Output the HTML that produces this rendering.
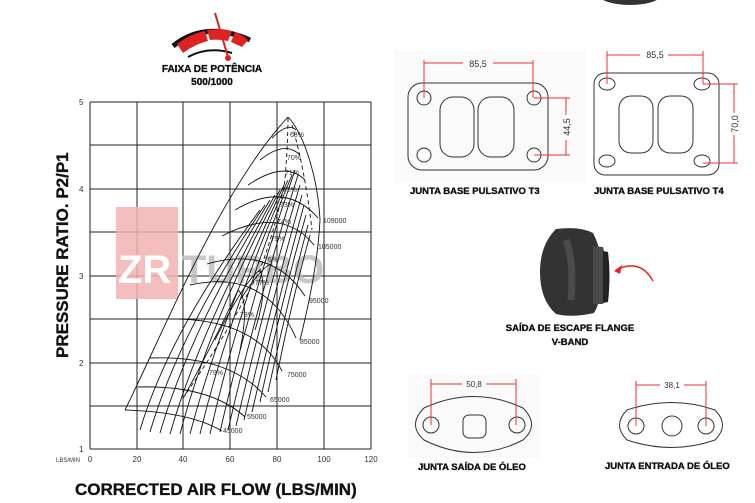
<!DOCTYPE html>
<html><head><meta charset="utf-8"><style>
html,body{margin:0;padding:0;background:#fff;width:755px;height:503px;overflow:hidden}
svg{display:block}
.b{font-family:"Liberation Sans",sans-serif;font-weight:bold;fill:#111;stroke:#111;stroke-width:0.35}
.s{font-family:"Liberation Sans",sans-serif;fill:#333}
</style></head><body>
<svg width="755" height="503" viewBox="0 0 755 503" xmlns="http://www.w3.org/2000/svg">
<g>
<path d="M173,46 Q205,20 250,40" stroke="#111" stroke-width="5" fill="none"/>
<path d="M183,53 L177,44 Q190,34 205,31 L208,41 Q195,44 183,53Z" fill="#d22"/>
<path d="M210,40 L207,30 Q220,28 232,31 L228,41 Q219,39 210,40Z" fill="#d22"/>
<path d="M231,42 L235,32 Q243,35 248,40 L242,47Z" fill="#d22"/>
<path d="M188,57 Q208,46 232,53" stroke="#111" stroke-width="2" fill="none"/>
<line x1="215" y1="13" x2="228" y2="57" stroke="#d22" stroke-width="2"/>
<circle cx="228" cy="58" r="3" fill="#d22"/>
</g>
<text x="212" y="72" class="b" font-size="10" text-anchor="middle">FAIXA DE POTÊNCIA</text>
<text x="212" y="85" class="b" font-size="10" text-anchor="middle">500/1000</text>

<g stroke="#222" stroke-width="1">
<line x1="90" y1="102" x2="90" y2="449"/><line x1="137" y1="102" x2="137" y2="449"/><line x1="183" y1="102" x2="183" y2="449"/><line x1="230" y1="102" x2="230" y2="449"/><line x1="277" y1="102" x2="277" y2="449"/><line x1="324" y1="102" x2="324" y2="449"/><line x1="371" y1="102" x2="371" y2="449"/>
<line x1="90" y1="102" x2="371" y2="102"/><line x1="90" y1="145" x2="371" y2="145"/><line x1="90" y1="189" x2="371" y2="189"/><line x1="90" y1="232" x2="371" y2="232"/><line x1="90" y1="276" x2="371" y2="276"/><line x1="90" y1="319" x2="371" y2="319"/><line x1="90" y1="363" x2="371" y2="363"/><line x1="90" y1="406" x2="371" y2="406"/><line x1="90" y1="449" x2="371" y2="449"/>
</g>
<g class="s" font-size="8">
<text x="79" y="105">5</text><text x="79" y="192">4</text><text x="79" y="279">3</text><text x="79" y="366">2</text><text x="79" y="452">1</text>
<text x="56" y="462" font-size="6">LBS/MIN</text>
<text x="90" y="462" text-anchor="middle">0</text><text x="137" y="462" text-anchor="middle">20</text><text x="183" y="462" text-anchor="middle">40</text><text x="230" y="462" text-anchor="middle">60</text><text x="277" y="462" text-anchor="middle">80</text><text x="324" y="462" text-anchor="middle">100</text><text x="371" y="462" text-anchor="middle">120</text>
</g>
<text class="b" font-size="17" transform="translate(68,358) rotate(-90)">PRESSURE RATIO. P2/P1</text>
<text x="75" y="495" class="b" font-size="17">CORRECTED AIR FLOW (LBS/MIN)</text>

<rect x="116" y="207" width="62" height="92" fill="#f2b3b3" opacity="0.85"/>
<text x="118" y="283" font-family="Liberation Sans,sans-serif" font-weight="bold" font-size="40" fill="#fff">ZR</text>
<text x="182" y="283" font-family="Liberation Sans,sans-serif" font-weight="bold" font-size="40" fill="#bbb" opacity="0.8">TURBO</text>

<g stroke="#111" stroke-width="0.9" fill="none">
<path d="M125,410 C160,340 220,190 288,117"/>
<path d="M288,117 C305,135 318,180 320,220 C318,260 310,300 300,340"/>
<path d="M125,410 Q190,412 222,431"/>
<path d="M138,387 Q210,385 245,417"/>
<path d="M150,358 Q230,355 266,397"/>
<path d="M168,319 Q255,318 282,371"/>
<path d="M190,285 Q265,268 296,338"/>
<path d="M207,264 Q272,245 305,296"/>
<path d="M222,236 Q282,205 314,245"/>
<path d="M235,210 Q285,180 318,218"/>
<path d="M248,185 Q285,160 305,180"/>
<path d="M260,160 Q285,140 300,155"/>
<path d="M272,138 Q288,122 296,130"/>
<path d="M140,430 Q170,330 260,210"/><path d="M150,432 Q180,330 265,205"/><path d="M160,433 Q190,330 270,200"/><path d="M170,434 Q200,330 275,195"/>
<path d="M180,434 Q210,320 280,190"/><path d="M190,434 Q220,320 284,185"/><path d="M200,434 Q230,310 288,180"/><path d="M210,434 Q240,300 292,175"/>
<path d="M220,432 Q250,300 295,170"/><path d="M228,430 Q258,300 298,175"/><path d="M236,426 Q265,300 300,185"/><path d="M244,420 Q272,300 302,195"/>
<path d="M252,412 Q278,300 304,205"/><path d="M260,402 Q282,300 306,215"/><path d="M268,392 Q288,300 308,225"/><path d="M276,380 Q292,300 310,235"/>
<path d="M185,395 Q220,330 238,290 Q250,300 240,350"/>
<path d="M215,340 Q245,280 260,270 Q268,290 255,330"/>
<path d="M240,300 Q265,262 272,265"/>
</g>
<g stroke="#111" stroke-width="0.9" fill="none" stroke-dasharray="4,3">
<path d="M183,398 Q230,330 260,270 Q278,220 285,180 Q288,140 288,117"/>
<path d="M292,125 Q305,170 312,230"/>
</g>
<g class="s" font-size="7">
<text x="290" y="137">68%</text><text x="287" y="160">70%</text><text x="285" y="175">71%</text><text x="283" y="192">72%</text><text x="280" y="207">73%</text><text x="277" y="224">74%</text><text x="271" y="241">75%</text><text x="264" y="262">76%</text><text x="255" y="285">77%</text><text x="240" y="317">78%</text><text x="209" y="375">79%</text>
<text x="323" y="223">109000</text><text x="318" y="249">105000</text><text x="309" y="303">95000</text><text x="300" y="344">85000</text><text x="287" y="377">75000</text><text x="270" y="402">65000</text><text x="247" y="419">55000</text><text x="223" y="433">45000</text>
</g>

<ellipse cx="630" cy="-8" rx="34" ry="13" fill="#333"/>

<rect x="394" y="50" width="191" height="133" fill="#fafafa"/>
<rect x="408" y="83" width="140" height="87" rx="14" fill="none" stroke="#333"/>
<g fill="none" stroke="#333">
<circle cx="424" cy="98" r="7"/><circle cx="534" cy="98" r="7"/><circle cx="424" cy="155" r="7"/><circle cx="534" cy="155" r="7"/>
<rect x="440" y="97" width="34" height="60" rx="13"/><rect x="478" y="97" width="36" height="60" rx="13"/>
</g>
<g stroke="#e33" fill="none">
<line x1="424" y1="60" x2="424" y2="98"/><line x1="533" y1="60" x2="533" y2="98"/><line x1="424" y1="63" x2="463" y2="63"/><line x1="493" y1="63" x2="533" y2="63"/>
<line x1="534" y1="98" x2="570" y2="98"/><line x1="534" y1="155" x2="570" y2="155"/><line x1="566" y1="98" x2="566" y2="115"/><line x1="566" y1="140" x2="566" y2="155"/>
</g>
<text x="478" y="67" class="s" font-size="9" text-anchor="middle">85,5</text>
<text class="s" font-size="9" text-anchor="middle" transform="translate(570,127) rotate(-90)">44,5</text>
<text x="410" y="194" class="b" font-size="9.5">JUNTA BASE PULSATIVO T3</text>

<rect x="594" y="73" width="125" height="102" rx="11" fill="none" stroke="#333"/>
<g fill="none" stroke="#333">
<ellipse cx="607" cy="84" rx="8" ry="6"/><ellipse cx="702" cy="84" rx="8" ry="6"/><ellipse cx="607" cy="161" rx="8" ry="6"/><ellipse cx="702" cy="161" rx="8" ry="6"/>
<rect x="619" y="96" width="34" height="57" rx="12"/><rect x="658" y="96" width="35" height="57" rx="12"/>
</g>
<g stroke="#e33" fill="none">
<line x1="607" y1="51" x2="607" y2="84"/><line x1="703" y1="51" x2="703" y2="84"/><line x1="607" y1="55" x2="640" y2="55"/><line x1="668" y1="55" x2="703" y2="55"/>
<line x1="703" y1="84" x2="738" y2="84"/><line x1="703" y1="163" x2="738" y2="163"/><line x1="734" y1="84" x2="734" y2="113"/><line x1="734" y1="135" x2="734" y2="163"/>
</g>
<text x="655" y="58" class="s" font-size="9" text-anchor="middle">85,5</text>
<text class="s" font-size="9" text-anchor="middle" transform="translate(738,124) rotate(-90)">70,0</text>
<text x="594" y="194" class="b" font-size="9.5">JUNTA BASE PULSATIVO T4</text>

<path d="M556,229 Q580,226 593,233 Q602,250 602,272 Q602,300 594,313 Q572,318 556,314 Q540,300 540,272 Q540,245 556,229Z" fill="#333"/>
<path d="M593,246 L603,247 Q609,270 603,304 L593,304Z" fill="#4a4a4a"/>
<path d="M603,251 L608,252 Q611,275 608,302 L603,303Z" fill="#222"/>
<path d="M566,240 Q574,260 571,300" stroke="#555" stroke-width="7" fill="none" opacity="0.7"/>
<path d="M653,281 Q640,258 616,270" stroke="#e22" stroke-width="1.5" fill="none"/>
<path d="M614,271 L622,265 L620,274Z" fill="#e22"/>
<text x="570" y="331" class="b" font-size="9.5" text-anchor="middle">SAÍDA DE ESCAPE FLANGE</text>
<text x="570" y="345" class="b" font-size="9.5" text-anchor="middle">V-BAND</text>

<rect x="408" y="375" width="132" height="83" fill="#fafafa"/>
<path d="M424,408 Q474,385 523,408 Q540,425 523,440 Q474,465 424,440 Q407,425 424,408Z" fill="none" stroke="#333"/>
<g fill="none" stroke="#333"><circle cx="431" cy="425" r="8"/><circle cx="517" cy="425" r="8"/><rect x="463" y="415" width="23" height="23" rx="6"/></g>
<g stroke="#e33"><line x1="431" y1="379" x2="431" y2="425"/><line x1="516" y1="379" x2="516" y2="425"/><line x1="431" y1="384" x2="462" y2="384"/><line x1="486" y1="384" x2="516" y2="384"/></g>
<text x="474" y="387" class="s" font-size="8" text-anchor="middle">50,8</text>
<text x="418" y="470" class="b" font-size="9.5">JUNTA SAÍDA DE ÓLEO</text>

<path d="M627,410 Q672,395 715,410 Q730,425 715,440 Q672,455 627,440 Q612,425 627,410Z" fill="none" stroke="#333"/>
<g fill="none" stroke="#333"><circle cx="636" cy="426" r="8"/><circle cx="706" cy="426" r="8"/><circle cx="672" cy="426" r="10"/></g>
<g stroke="#e33"><line x1="636" y1="381" x2="636" y2="426"/><line x1="706" y1="381" x2="706" y2="426"/><line x1="636" y1="385" x2="660" y2="385"/><line x1="684" y1="385" x2="706" y2="385"/></g>
<text x="672" y="388" class="s" font-size="8" text-anchor="middle">38,1</text>
<text x="605" y="469" class="b" font-size="9.5">JUNTA ENTRADA DE ÓLEO</text>
</svg>
</body></html>
